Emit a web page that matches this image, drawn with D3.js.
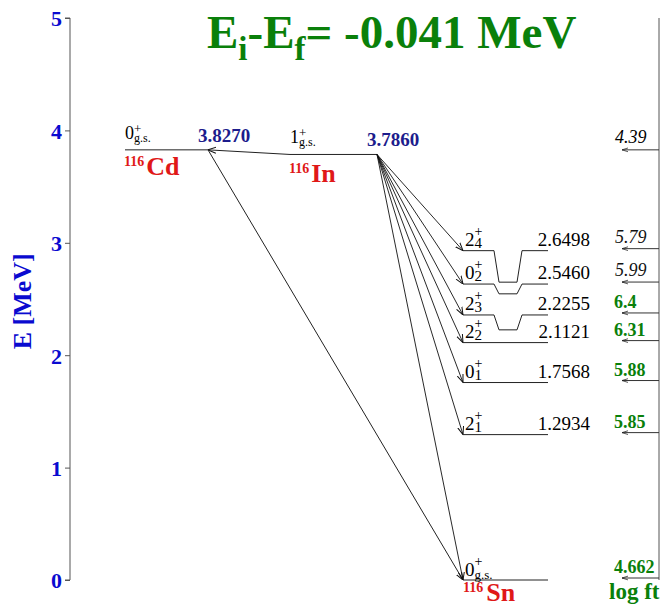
<!DOCTYPE html>
<html>
<head>
<meta charset="utf-8">
<script src="https://cdn.jsdelivr.net/npm/d3@7"></script>
<style>
  body { margin: 0; background: #fff; }
  svg { display: block; font-family: "Liberation Serif", "Times New Roman", serif; }
</style>
</head>
<body>
<svg id="chart" width="664" height="607"></svg>
<script>
// Parent nuclei: 116Cd (EC side) and 116In
const parentMass = ["116", "116"];
const parentSymbol = ["Cd", "In"];
const parentEnergy = [3.8270, 3.7860];
const parentSpin = ["0", "1"];
const cdLogFt = "4.39";

// Daughter 116Sn levels fed from 116In
const snEnergy = [2.6498, 2.5460, 2.2255, 2.1121, 1.7568, 1.2934, 0];
const snSpin   = ["2", "0", "2", "2", "0", "2", "0"];
const snIndex  = ["4", "2", "3", "2", "1", "1", "g.s."];
// energy rows on which the labels of crowded levels are placed
const snRow    = [2.930, 2.633, 2.358, 2.1121, 1.7568, 1.2934, 0];
const snLogFt  = ["5.79", "5.99", "6.4", "6.31", "5.88", "5.85", "4.662"];
const snLogFtBold = [false, false, true, true, true, true, true];

const yTicks = [0, 1, 2, 3, 4, 5];
const qValue = "-0.041";

const GREEN = "#0a800a", RED = "#e01818", BLUE = "#0a0ad0", NAVY = "#1c1c8c";

const svg = d3.select("#chart");
const y = d3.scaleLinear().domain([0, 5]).range([580, 18]);

// column layout
const col = {
  cd: [125, 208], inn: [290, 377],
  sn: [463, 548], notch: [494, 499, 517, 522],
  ftLine: 659, ftTip: 622, ftText: 614
};

// arrow markers
const defs = svg.append("defs");
defs.append("marker").attr("id", "head").attr("viewBox", "0 -4 8 8")
  .attr("refX", 8).attr("refY", 0).attr("markerWidth", 8).attr("markerHeight", 8)
  .attr("markerUnits", "userSpaceOnUse").attr("orient", "auto")
  .append("path").attr("d", "M0,-3L8,0L0,3").attr("fill", "none")
  .attr("stroke", "#111").attr("stroke-width", 1);
defs.append("marker").attr("id", "headSmall").attr("viewBox", "0 -4 8 8")
  .attr("refX", 8).attr("refY", 0).attr("markerWidth", 6).attr("markerHeight", 6)
  .attr("markerUnits", "userSpaceOnUse").attr("orient", "auto")
  .append("path").attr("d", "M0,-2.5L8,0L0,2.5").attr("fill", "none")
  .attr("stroke", "#222").attr("stroke-width", 1);

// spin-parity label: J with "+" stacked above its subscript
function spinLabel(x, yb, J, sub, size, supSize, subSize, supRise, subDrop) {
  const t = svg.append("text").attr("x", x).attr("y", yb);
  t.append("tspan").attr("font-size", size).text(J);
  const plus = t.append("tspan").attr("font-size", supSize).attr("dy", -supRise).text("+");
  const w = plus.node().getComputedTextLength();
  t.append("tspan").attr("font-size", subSize).attr("dx", -w).attr("dy", supRise + subDrop).text(sub);
  return t;
}

// energy axis
const axis = d3.axisLeft(y).tickValues(yTicks).tickSize(5).tickFormat(d3.format("d"));
const gAxis = svg.append("g").attr("transform", "translate(70,0)").call(axis);
gAxis.attr("font-family", null);
gAxis.select(".domain").attr("stroke", "#555").attr("d", `M-5,${y(5)}H0V${y(0)}H-5`);
gAxis.selectAll(".tick line").attr("stroke", "#555");
gAxis.selectAll(".tick text").attr("fill", BLUE).attr("font-size", 22)
  .attr("font-weight", "bold")
  .attr("x", -8).attr("dy", "0.36em");

svg.append("text").attr("transform", `translate(31,${y(2.48)}) rotate(-90)`)
  .attr("text-anchor", "middle").attr("fill", BLUE).attr("font-size", 26)
  .attr("font-weight", "bold").text("E [MeV]");

// title
const title = svg.append("text").attr("x", 207).attr("y", 48)
  .attr("fill", GREEN).attr("font-size", 47).attr("font-weight", "bold");
title.append("tspan").text("E");
title.append("tspan").attr("font-size", 33).attr("dy", 12).text("i");
title.append("tspan").attr("dy", -12).text("-E");
title.append("tspan").attr("font-size", 33).attr("dy", 12).text("f");
title.append("tspan").attr("dy", -12).text(`= ${qValue} MeV`);

// log ft side line
svg.append("line").attr("x1", col.ftLine).attr("x2", col.ftLine)
  .attr("y1", y(5)).attr("y2", y(0)).attr("stroke", "#555");

// ---- parent levels ----
const pCols = [col.cd, col.inn];
parentEnergy.forEach((E, i) => {
  const [x0, x1] = pCols[i];
  const yy = y(E);
  svg.append("line").attr("x1", x0).attr("x2", x1).attr("y1", yy).attr("y2", yy)
    .attr("stroke", "#222").attr("stroke-width", 1);
  spinLabel(x0, yy - 11, parentSpin[i], "g.s.", 18, 13, 12, 6, 3);
  // energy
  svg.append("text").attr("x", i === 0 ? 198 : 367).attr("y", yy - 8)
    .attr("fill", NAVY).attr("font-size", 19).attr("font-weight", "bold")
    .text(E.toFixed(4));
  // nuclide name
  const nb = yy + (i === 0 ? 25 : 28);
  const nt = svg.append("text").attr("x", x0 - 1).attr("y", nb)
    .attr("fill", RED).attr("font-weight", "bold");
  nt.append("tspan").attr("font-size", 14).attr("dy", -9).text(parentMass[i]);
  nt.append("tspan").attr("font-size", 26).attr("dy", 9).attr("dx", 2).text(parentSymbol[i]);
});

// 116In -> 116Cd (EC)
svg.append("line").attr("x1", col.inn[0]).attr("y1", y(parentEnergy[1]))
  .attr("x2", col.cd[1]).attr("y2", y(parentEnergy[0]))
  .attr("stroke", "#222").attr("marker-end", "url(#head)");
// 116Cd -> 116Sn g.s.
svg.append("line").attr("x1", col.cd[1]).attr("y1", y(parentEnergy[0]))
  .attr("x2", col.sn[0]).attr("y2", y(snRow[6]))
  .attr("stroke", "#222").attr("marker-end", "url(#head)");

// Cd log ft
svg.append("line").attr("x1", col.ftLine).attr("x2", col.ftTip)
  .attr("y1", y(parentEnergy[0])).attr("y2", y(parentEnergy[0]))
  .attr("stroke", "#333").attr("marker-end", "url(#headSmall)");
svg.append("text").attr("x", col.ftText + 1).attr("y", y(parentEnergy[0]) - 7)
  .attr("font-size", 18).attr("font-style", "italic").text(cdLogFt);

// ---- 116Sn levels ----
snEnergy.forEach((E, i) => {
  const yr = y(snRow[i]), ye = y(E);
  const [x0, x1] = col.sn;
  const [xa, xb, xc, xd] = col.notch;
  const pts = Math.abs(yr - ye) > 0.5
    ? [[x0, yr], [xa, yr], [xb, ye], [xc, ye], [xd, yr], [x1, yr]]
    : [[x0, yr], [x1, yr]];
  svg.append("path").attr("d", d3.line()(pts)).attr("fill", "none")
    .attr("stroke", "#222").attr("stroke-width", 1);

  // beta branch from 116In
  svg.append("line").attr("x1", col.inn[1]).attr("y1", y(parentEnergy[1]))
    .attr("x2", x0).attr("y2", yr).attr("stroke", "#111").attr("stroke-width", 0.9)
    .attr("marker-end", "url(#head)");

  // spin / parity label
  const gs = snIndex[i] === "g.s.";
  spinLabel(x0 + 2, yr - (gs ? 4 : 5), snSpin[i], snIndex[i],
            19, 14, gs ? 13 : 15, 10, gs ? 3 : 2);

  // level energy
  if (!gs) {
    svg.append("text").attr("x", 590).attr("y", yr - 5).attr("text-anchor", "end")
      .attr("font-size", 19).text(E.toFixed(4));
  }

  // log ft
  const ya = yr - 2;
  svg.append("line").attr("x1", col.ftLine).attr("x2", col.ftTip)
    .attr("y1", ya).attr("y2", ya).attr("stroke", "#333")
    .attr("marker-end", "url(#headSmall)");
  const bold = snLogFtBold[i];
  svg.append("text").attr("x", col.ftText + (bold ? 0 : 1)).attr("y", ya - (bold ? 5 : 6))
    .attr("font-size", 18)
    .attr("font-weight", bold ? "bold" : "normal")
    .attr("font-style", bold ? "normal" : "italic")
    .attr("fill", bold ? GREEN : "#111")
    .text(snLogFt[i]);
});

// 116Sn name
const sn = svg.append("text").attr("x", 463).attr("y", 601).attr("fill", RED).attr("font-weight", "bold");
sn.append("tspan").attr("font-size", 14).attr("dy", -9).text("116");
sn.append("tspan").attr("font-size", 26).attr("dy", 9).attr("dx", 3).text("Sn");

// log ft caption
svg.append("text").attr("x", 609).attr("y", 599).attr("fill", GREEN)
  .attr("font-size", 23).attr("font-weight", "bold").text("log ft");
</script>
</body>
</html>
